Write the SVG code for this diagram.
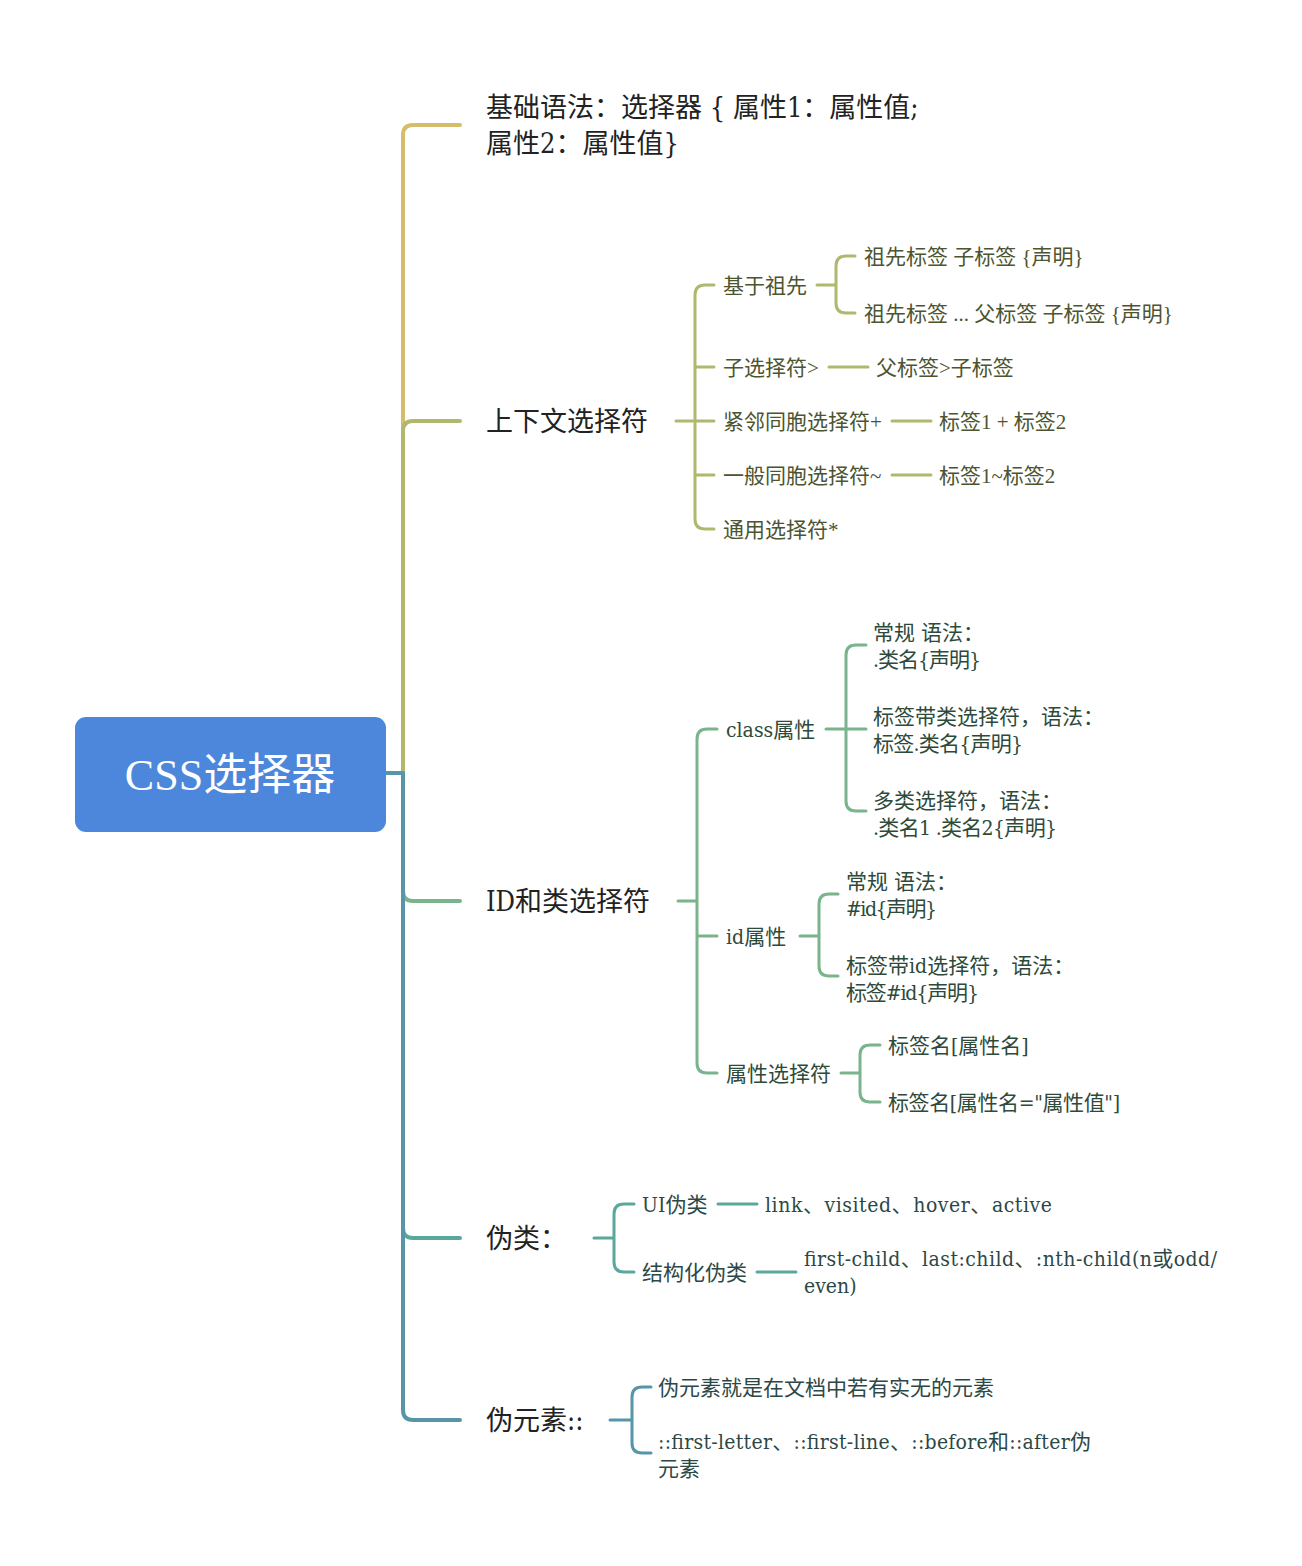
<svg xmlns="http://www.w3.org/2000/svg" width="1302" height="1566" viewBox="0 0 1302 1566">
<style>
text{font-family:"DejaVu Serif","Noto Sans CJK SC",serif;font-stretch:condensed;}
.lib{font-family:"Liberation Serif","Noto Sans CJK SC",serif;font-stretch:normal;}
.l1{font-size:27px;fill:#222;}
.l2{font-size:21px;}
.ctx{fill:#4c5430;}
.idc{fill:#2d4a3a;}
.ps{fill:#2c4846;}
.c{fill:none;stroke-linecap:round;stroke-linejoin:round;}
.t{stroke-width:4;}
.s{stroke-width:3;}
.y{stroke:#d5bd6b;}
.o{stroke:#b0b86e;}
.g{stroke:#7ab48c;}
.tl{stroke:#5aa89c;}
.b{stroke:#5796a8;}
</style>
<rect width="1302" height="1566" fill="#fff"/>
<g id="connectors">
<path class="c t y" d="M386,773 H403 V135 Q403,125 413,125 H460"/>
<path class="c t o" d="M386,773 H403 V431 Q403,421 413,421 H460"/>
<path class="c t g" d="M386,773 H403 V891 Q403,901 413,901 H460"/>
<path class="c t tl" d="M386,773 H403 V1228 Q403,1238 413,1238 H460"/>
<path class="c t b" d="M386,773 H403 V1410 Q403,1420 413,1420 H460"/>
<path class="c s o" d="M676,421 H695 M714,285 H705 Q695,285 695,295 V519 Q695,529 705,529 H714 M695,367 H714 M695,421 H714 M695,475 H714"/>
<path class="c s o" d="M817,285 H836 M855,256 H846 Q836,256 836,266 V303 Q836,313 846,313 H855"/>
<path class="c s o" d="M829,367 H868 M892,421 H931 M892,475 H931"/>
<path class="c s g" d="M678,901 H697 M717,729 H707 Q697,729 697,739 V1063 Q697,1073 707,1073 H717 M697,936 H717"/>
<path class="c s g" d="M826,729 H846 M866,645 H856 Q846,645 846,655 V801 Q846,811 856,811 H866 M846,729 H866"/>
<path class="c s g" d="M800,936 H819 M838,894 H829 Q819,894 819,904 V966 Q819,976 829,976 H838"/>
<path class="c s g" d="M841,1073 H860 M880,1045 H870 Q860,1045 860,1055 V1092 Q860,1102 870,1102 H880"/>
<path class="c s tl" d="M594,1238 H614 M634,1204 H624 Q614,1204 614,1214 V1262 Q614,1272 624,1272 H634 M718,1204 H757 M757,1272 H796"/>
<path class="c s b" d="M610,1420 H632 M651,1387 H642 Q632,1387 632,1397 V1443 Q632,1453 642,1453 H651"/>
</g>
<g id="root">
<rect x="75" y="717" width="311" height="115" rx="11" fill="#4d87db"/>
<text class="lib" x="230" y="790" font-size="44" fill="#fff" text-anchor="middle">CSS选择器</text>
</g>
<g id="basic">
<text class="l1" x="486" y="117">基础语法：选择器 { 属性1：属性值;</text>
<text class="l1" x="486" y="153">属性2：属性值}</text>
</g>
<g id="context">
<text class="l1" x="486" y="431">上下文选择符</text>
</g>
<g id="ancestor"><text class="l2 ctx lib" x="723" y="293">基于祖先</text></g>
<g id="anc1"><text class="l2 ctx lib" x="864" y="264">祖先标签 子标签 {声明}</text></g>
<g id="anc2"><text class="l2 ctx lib" x="864" y="321">祖先标签 ... 父标签 子标签 {声明}</text></g>
<g id="child"><text class="l2 ctx lib" x="723" y="375">子选择符&gt;</text></g>
<g id="child1"><text class="l2 ctx lib" x="876" y="375">父标签&gt;子标签</text></g>
<g id="adj"><text class="l2 ctx lib" x="723" y="429">紧邻同胞选择符+</text></g>
<g id="adj1"><text class="l2 ctx lib" x="939" y="429">标签1 + 标签2</text></g>
<g id="gen"><text class="l2 ctx lib" x="723" y="483">一般同胞选择符~</text></g>
<g id="gen1"><text class="l2 ctx lib" x="939" y="483">标签1~标签2</text></g>
<g id="univ"><text class="l2 ctx lib" x="723" y="537">通用选择符*</text></g>
<g id="idclass">
<text class="l1" x="486" y="911">ID和类选择符</text>
</g>
<g id="classattr"><text class="l2 idc" x="726" y="737">class属性</text></g>
<g id="class1"><text class="l2 idc" x="873" y="640">常规 语法：</text><text class="l2 idc" x="873" y="667" textLength="108">.类名{声明}</text></g>
<g id="class2"><text class="l2 idc" x="873" y="724">标签带类选择符，语法：</text><text class="l2 idc" x="873" y="751" textLength="150">标签.类名{声明}</text></g>
<g id="class3"><text class="l2 idc" x="873" y="808">多类选择符，语法：</text><text class="l2 idc" x="873" y="835" textLength="184">.类名1 .类名2{声明}</text></g>
<g id="idattr"><text class="l2 idc" x="726" y="944">id属性</text></g>
<g id="id1"><text class="l2 idc" x="846" y="889">常规 语法：</text><text class="l2 idc" x="846" y="916" textLength="91">#id{声明}</text></g>
<g id="id2"><text class="l2 idc" x="846" y="973">标签带id选择符，语法：</text><text class="l2 idc" x="846" y="1000" textLength="133">标签#id{声明}</text></g>
<g id="attrsel"><text class="l2 idc" x="726" y="1081">属性选择符</text></g>
<g id="attr1"><text class="l2 idc" x="888" y="1053">标签名[属性名]</text></g>
<g id="attr2"><text class="l2 idc" x="888" y="1110" textLength="232">标签名[属性名="属性值"]</text></g>
<g id="pseudoclass">
<text class="l1" x="486" y="1248">伪类：</text>
</g>
<g id="ui"><text class="l2 ps" x="642" y="1212">UI伪类</text></g>
<g id="ui1"><text class="l2 ps" x="765" y="1212" textLength="287">link、visited、hover、active</text></g>
<g id="struct"><text class="l2 ps" x="642" y="1280">结构化伪类</text></g>
<g id="struct1"><text class="l2 ps" x="804" y="1266" textLength="413">first-child、last:child、:nth-child(n或odd/</text><text class="l2 ps" x="804" y="1293">even)</text></g>
<g id="pseudoelem">
<text class="l1" x="486" y="1430">伪元素::</text>
</g>
<g id="pe1"><text class="l2 ps" x="658" y="1395">伪元素就是在文档中若有实无的元素</text></g>
<g id="pe2"><text class="l2 ps" x="658" y="1449" textLength="433">::first-letter、::first-line、::before和::after伪</text><text class="l2 ps" x="658" y="1476">元素</text></g>
</svg>
